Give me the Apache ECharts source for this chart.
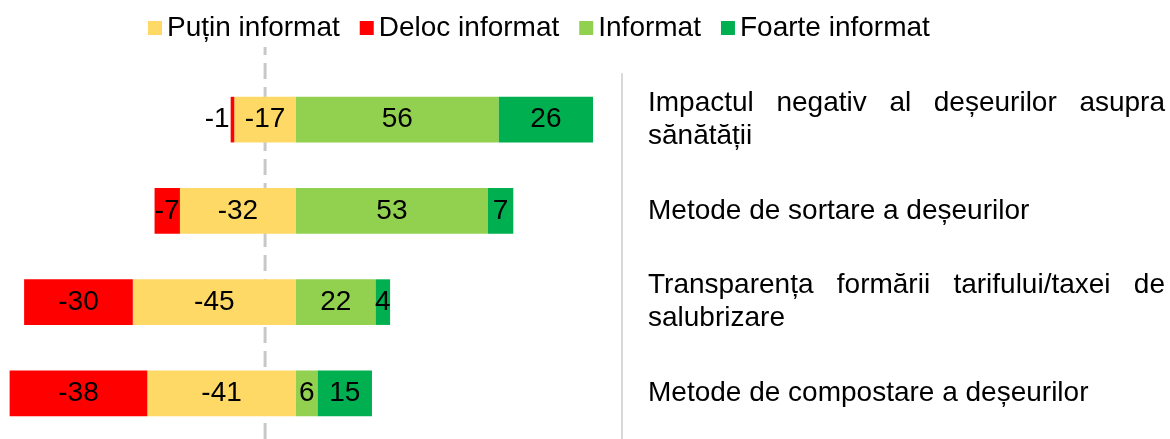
<!DOCTYPE html>
<html>
<head>
<meta charset="utf-8">
<script src="https://cdn.jsdelivr.net/npm/echarts@6/dist/echarts.min.js"></script>
<style>
html, body { margin: 0; padding: 0; background: #fff; }
#chart { width: 1170px; height: 439px; }
</style>
</head>
<body>
<div id="chart"></div>
<script>
var categories = ['Impactul negativ al deșeurilor asupra sănătății', 'Metode de sortare a deșeurilor', 'Transparența formării tarifului/taxei de salubrizare', 'Metode de compostare a deșeurilor'];
var putin = [-17, -32, -45, -41]; // Puțin informat
var deloc = [-1, -7, -30, -38]; // Deloc informat
var informat = [56, 53, 22, 6];
var foarte = [26, 7, 4, 15]; // Foarte informat
var refLine = -8.5; // linia punctata

var FONT = '"Liberation Sans", Arial, sans-serif';
var LABEL_W = 517; // latimea textului aliniat stanga-dreapta

// text justificat (ca in Excel) facut cu rich text
var ctx = document.createElement('canvas').getContext('2d');
ctx.font = '28px ' + FONT;
function tw(s) { return ctx.measureText(s).width; }

var rich = { n: { fontSize: 28, fontFamily: FONT, color: '#000', lineHeight: 33 } };
var labelText = {};
for (var i = 0; i < categories.length; i++) {
	var words = categories[i].split(' ');
	var lines = [], cur = [], curW = 0;
	for (var j = 0; j < words.length; j++) {
		var ww = tw(words[j]);
		if (cur.length && curW + tw(' ') + ww > LABEL_W) {
			lines.push(cur);
			cur = [];
			curW = 0;
		}
		curW += (cur.length ? tw(' ') : 0) + ww;
		cur.push(words[j]);
	}
	lines.push(cur);
	var out = [];
	for (var l = 0; l < lines.length; l++) {
		var ln = lines[l];
		if (l == lines.length - 1 || ln.length < 2) {
			out.push('{n|' + ln.join(' ') + '}');
			continue;
		}
		var total = 0;
		for (var k = 0; k < ln.length; k++) total += tw(ln[k]);
		var gap = (LABEL_W - total) / (ln.length - 1);
		var s = '';
		for (var k = 0; k < ln.length; k++) {
			var name = 'c' + i + 'l' + l + 'w' + k;
			rich[name] = { fontSize: 28, fontFamily: FONT, color: '#000', lineHeight: 33 };
			if (k < ln.length - 1) rich[name].width = tw(ln[k]) + gap;
			s += '{' + name + '|' + ln[k] + '}';
		}
		out.push(s);
	}
	labelText[categories[i]] = out.join('\n');
}

var barLabel = {
	show: true,
	position: 'inside',
	color: '#000',
	fontSize: 28,
	fontFamily: FONT
};

// eticheta -1 sta in stanga barei (bara e prea subtire)
var delocData = [];
for (var i = 0; i < deloc.length; i++) {
	if (deloc[i] > -3) {
		delocData.push({ value: deloc[i], label: { position: 'left', distance: 1 } });
	} else {
		delocData.push(deloc[i]);
	}
}

var myChart = echarts.init(document.getElementById('chart'));

var option = {
	animation: false,
	textStyle: { fontFamily: FONT },
	legend: {
		left: 143,
		top: 9,
		itemWidth: 14,
		itemHeight: 14,
		itemGap: 20,
		icon: 'rect',
		textStyle: { fontSize: 28, color: '#000', fontFamily: FONT },
		data: ['Puțin informat', 'Deloc informat', 'Informat', 'Foarte informat']
	},
	grid: [
		{ left: 6, right: 548, top: 74, bottom: -3, containLabel: false },
		{ left: 6, right: 548, top: 47, bottom: 0, containLabel: false }
	],
	xAxis: [
		{ type: 'value', min: -80, max: 90, show: false, gridIndex: 0 },
		{ type: 'value', min: -80, max: 90, show: false, gridIndex: 1 }
	],
	yAxis: [
		{
			type: 'category',
			data: categories,
			inverse: true,
			position: 'right',
			gridIndex: 0,
			axisLine: { show: true, onZero: false, lineStyle: { color: '#D9D9D9', width: 2 } },
			axisTick: { show: false },
			axisLabel: {
				align: 'left',
				margin: 26,
				formatter: function (v) { return labelText[v]; },
				rich: rich
			}
		},
		{ type: 'value', min: 0, max: 1, show: false, gridIndex: 1 }
	],
	series: [
		{
			name: 'Puțin informat',
			type: 'bar',
			stack: 'total',
			barWidth: '50%',
			color: '#FFD966',
			label: barLabel,
			data: putin
		},
		{
			name: 'Deloc informat',
			type: 'bar',
			stack: 'total',
			barWidth: '50%',
			color: '#FF0000',
			label: barLabel,
			data: delocData
		},
		{
			name: 'Informat',
			type: 'bar',
			stack: 'total',
			barWidth: '50%',
			color: '#92D050',
			label: barLabel,
			data: informat
		},
		{
			name: 'Foarte informat',
			type: 'bar',
			stack: 'total',
			barWidth: '50%',
			color: '#00B050',
			label: barLabel,
			data: foarte
		},
		{
			name: 'ref',
			type: 'line',
			xAxisIndex: 1,
			yAxisIndex: 1,
			symbol: 'none',
			silent: true,
			z: 1,
			lineStyle: { color: '#C8C8C8', width: 3, type: [16, 8] },
			data: [[refLine, 0], [refLine, 1]]
		}
	]
};

myChart.setOption(option);
</script>
</body>
</html>
